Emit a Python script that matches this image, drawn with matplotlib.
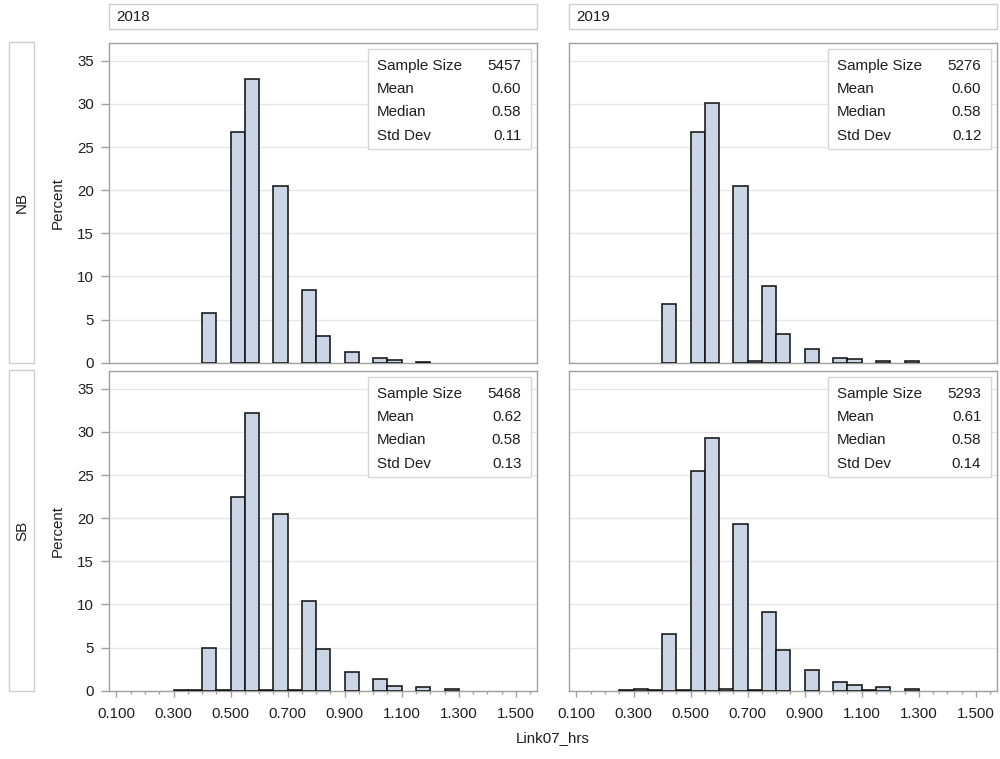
import matplotlib
matplotlib.use("Agg")
import matplotlib.pyplot as plt
from matplotlib.patches import Rectangle
from matplotlib.ticker import MultipleLocator, FixedLocator
import numpy as np

plt.rcParams['font.family'] = ['Liberation Sans', 'DejaVu Sans']

# Histogram bins (left edges, width 0.05 h) and percent per bin
bin_left = [0.25, 0.30, 0.35, 0.40, 0.45, 0.50, 0.55, 0.60, 0.65, 0.70, 0.75,
            0.80, 0.85, 0.90, 0.95, 1.00, 1.05, 1.10, 1.15, 1.20, 1.25]
bin_width = 0.05

pct_nb_2018 = [0, 0, 0, 5.8, 0, 26.7, 32.9, 0, 20.5, 0, 8.45,
               3.15, 0, 1.2, 0, 0.6, 0.3, 0, 0.12, 0, 0]
pct_nb_2019 = [0, 0, 0, 6.85, 0, 26.7, 30.1, 0, 20.5, 0.15, 8.9,
               3.3, 0, 1.6, 0, 0.58, 0.42, 0, 0.14, 0, 0.14]
pct_sb_2018 = [0, 0.07, 0.07, 5.0, 0.07, 22.4, 32.2, 0.08, 20.5, 0.08, 10.4,
               4.8, 0, 2.2, 0, 1.4, 0.55, 0, 0.42, 0, 0.14]
pct_sb_2019 = [0.08, 0.23, 0.08, 6.6, 0.08, 25.5, 29.3, 0.23, 19.35, 0.08, 9.1,
               4.67, 0, 2.43, 0, 0.97, 0.68, 0.08, 0.39, 0, 0.2]

years = ['2018', '2019']
directions = ['NB', 'SB']

stat_names = ['Sample Size', 'Mean', 'Median', 'Std Dev']
stats_nb_2018 = ['5457', '0.60', '0.58', '0.11']
stats_nb_2019 = ['5276', '0.60', '0.58', '0.12']
stats_sb_2018 = ['5468', '0.62', '0.58', '0.13']
stats_sb_2019 = ['5293', '0.61', '0.58', '0.14']

x_major = [0.1, 0.3, 0.5, 0.7, 0.9, 1.1, 1.3, 1.5]
x_label = 'Link07_hrs'
y_label = 'Percent'

panels = {
    ('NB', '2018'): (pct_nb_2018, stats_nb_2018),
    ('NB', '2019'): (pct_nb_2019, stats_nb_2019),
    ('SB', '2018'): (pct_sb_2018, stats_sb_2018),
    ('SB', '2019'): (pct_sb_2019, stats_sb_2019),
}

# ---- layout (pixel units, origin at top-left) ----
W, H = 1000, 759
fig = plt.figure(figsize=(W / 100, H / 100), dpi=100)
fig.patch.set_facecolor('white')


def fx(x):
    return x / W


def fy(y):
    return 1 - y / H


col_left = [109.3, 569.3]
row_top = [42.7, 370.7]
ax_w, ax_h = 428, 320

TEXT = '#1e1e1e'
FRAME = '#a0a0a0'
HEADER = '#cfcfcf'
GRID = '#e6e6e6'
BAR_FILL = '#cad5e5'
BAR_EDGE = '#141414'
FS = 10.9
FS_TICK = 10.8


def fig_box(x0, y0, x1, y1, ec):
    fig.patches.append(Rectangle((fx(x0), fy(y1)), (x1 - x0) / W, (y1 - y0) / H,
                                 transform=fig.transFigure, facecolor='white',
                                 edgecolor=ec, linewidth=1.0, zorder=1))


# column headers
for c, yr in enumerate(years):
    x0 = col_left[c]
    fig_box(x0, 4, x0 + ax_w, 29, HEADER)
    fig.text(fx(x0 + 6.5), fy(16.8), yr, ha='left', va='center',
             fontsize=FS, color=TEXT)

# row headers and y labels
for r, d in enumerate(directions):
    t = row_top[r]
    fig_box(9.3, t - 0.4, 34.3, t + ax_h + 0.6, HEADER)
    fig.text(fx(22), fy(t + ax_h / 2), d, rotation=90, ha='center',
             va='center', fontsize=FS, color=TEXT)
    fig.text(fx(57.5), fy(t + ax_h / 2), y_label, rotation=90, ha='center',
             va='center', fontsize=FS, color=TEXT)

for r, d in enumerate(directions):
    for c, yr in enumerate(years):
        pct, stats = panels[(d, yr)]
        l, t = col_left[c], row_top[r]
        ax = fig.add_axes([fx(l), fy(t + ax_h), ax_w / W, ax_h / H])
        ax.set_facecolor('white')

        xs = [b for b, v in zip(bin_left, pct) if v > 0]
        hs = [v for v in pct if v > 0]
        ax.bar(xs, hs, width=bin_width, align='edge', color=BAR_FILL,
               edgecolor=BAR_EDGE, linewidth=1.15, zorder=3)

        ax.set_xlim(0.075, 1.575)
        ax.set_ylim(0, 37.1)
        ax.yaxis.set_major_locator(MultipleLocator(5))
        ax.xaxis.set_major_locator(FixedLocator(x_major))
        ax.xaxis.set_minor_locator(MultipleLocator(0.05))
        ax.set_xticklabels(['%.3f' % v for v in x_major])
        ax.grid(axis='y', color=GRID, linewidth=1.0, zorder=0)
        ax.set_axisbelow(True)
        for s in ax.spines.values():
            s.set_color(FRAME)
            s.set_linewidth(1.0)

        ax.tick_params(axis='y', which='both', length=6, width=1.0,
                       color=FRAME, labelcolor=TEXT, labelsize=FS_TICK, pad=5)
        ax.tick_params(axis='x', which='major', length=4.5, width=1.0,
                       color=FRAME, labelcolor=TEXT, labelsize=FS_TICK, pad=7)
        ax.tick_params(axis='x', which='minor', length=2.5, width=1.0,
                       color=FRAME)
        if r == 0:
            ax.tick_params(axis='x', which='both', bottom=False,
                           labelbottom=False)
        if c == 1:
            ax.tick_params(axis='y', which='both', left=False,
                           labelleft=False)

        # summary statistics inset
        bx1 = l + ax_w - 6
        bx0 = bx1 - 163
        by0 = t + 6.6
        by1 = by0 + 99.7
        fig_box(bx0, by0, bx1, by1, '#d6d6d6')
        for i, (name, val) in enumerate(zip(stat_names, stats)):
            yy = by0 + 16.7 + i * 23.2
            fig.text(fx(bx0 + 8.4), fy(yy), name, ha='left', va='center',
                     fontsize=FS, color=TEXT, zorder=5)
            fig.text(fx(bx1 - 10), fy(yy), val, ha='right', va='center',
                     fontsize=FS, color=TEXT, zorder=5)

fig.text(fx(553), fy(738), x_label, ha='center', va='center',
         fontsize=FS, color=TEXT)

fig.savefig('out.png', dpi=100, facecolor='white')
